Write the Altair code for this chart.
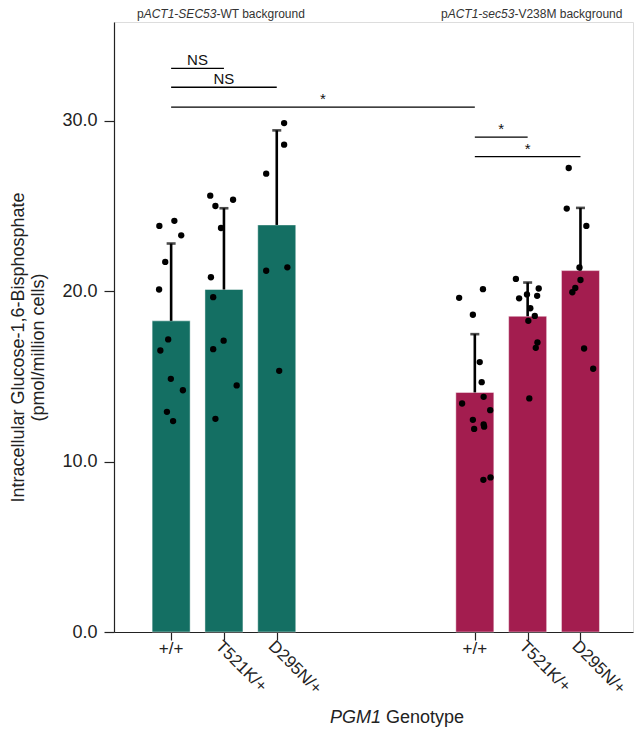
import altair as alt
import pandas as pd

# ---- data ----
genotypes = ["+/+", "T521K/+", "D295N/+", "+/+", "T521K/+", "D295N/+"]
backgrounds = ["WT", "WT", "WT", "V238M", "V238M", "V238M"]
positions = [0, 1, 2, 5.75, 6.75, 7.75]
means = [18.26, 20.10, 23.89, 14.06, 18.53, 21.21]
sd_tops = [22.80, 24.87, 29.44, 17.48, 20.51, 24.89]

pts_wt_wt = [23.83, 24.13, 23.28, 21.72, 20.10, 17.17, 16.52, 14.86, 14.19, 12.92, 12.38]
jit_wt_wt = [-12, 3.3, 10.3, -6, -12.3, -3, -11, -0.3, 12, -4.3, 2]
pts_wt_t521k = [25.61, 25.0, 25.37, 23.71, 20.82, 19.65, 17.1, 16.6, 14.47, 12.51]
jit_wt_t521k = [-14, -8.7, 9.3, -3, -13.3, -11, -0.3, -11, 13, -8.7]
pts_wt_d295n = [29.87, 28.6, 26.9, 21.2, 21.4, 15.33]
jit_wt_d295n = [7.5, 7.5, -10.8, -10.8, 10.8, 2.5]
pts_mut_wt = [19.61, 20.12, 18.62, 15.84, 14.66, 13.8, 13.41, 13.02, 12.45, 12.18, 12.05, 11.92, 8.93, 9.07]
jit_mut_wt = [-16, 8.3, -2, 5, 7, 9, -13, 15.7, -2, 9, 9.5, -0.7, 8.7, 16]
pts_mut_t521k = [20.72, 20.16, 19.58, 19.81, 19.73, 19.0, 18.55, 18.26, 16.99, 16.68, 13.71]
jit_mut_t521k = [-12, 11.3, -8.7, -0.7, 9.7, 2.7, 7.3, 0.7, 10, 8.3, 1.7]
pts_mut_d295n = [27.23, 24.85, 23.83, 21.39, 20.66, 20.19, 19.94, 16.64, 15.45]
jit_mut_d295n = [-12, -14, 6, -1, 0, -5.3, -8.3, 3.7, 13]

sig_x1 = [0, 0, 0, 5.75, 5.75]
sig_x2 = [1, 2, 5.75, 6.75, 7.75]
sig_y = [33.08, 31.97, 30.8, 29.04, 27.9]
sig_labels = ["NS", "NS", "*", "*", "*"]

y_ticks = [0, 10, 20, 30]

TEAL = "#146f63"
MAGENTA = "#a31d4f"
STEP_PX = 53.9  # pixels per x unit, used to convert jitter offsets

bars = pd.DataFrame({
    "genotype": genotypes,
    "background": backgrounds,
    "pos": positions,
    "mean": means,
    "sdtop": sd_tops,
    "angle": [0 if g == "+/+" else 45 for g in genotypes],
})

pt_groups = [pts_wt_wt, pts_wt_t521k, pts_wt_d295n, pts_mut_wt, pts_mut_t521k, pts_mut_d295n]
jit_groups = [jit_wt_wt, jit_wt_t521k, jit_wt_d295n, jit_mut_wt, jit_mut_t521k, jit_mut_d295n]
rows = []
for p, vals, jits in zip(positions, pt_groups, jit_groups):
    for v, j in zip(vals, jits):
        rows.append({"x": p + j / STEP_PX, "value": v})
points = pd.DataFrame(rows)

sig = pd.DataFrame({"x1": sig_x1, "x2": sig_x2, "y": sig_y, "label": sig_labels})
sig["mid"] = (sig["x1"] + sig["x2"]) / 2

FONT = "Liberation Sans"
xscale = alt.Scale(domain=[-0.987, 8.65], nice=False, zero=False)
yscale = alt.Scale(domain=[0, 35.8], nice=False)

x_axis = alt.Axis(values=positions, labels=False, title=None, grid=False,
                  tickSize=8, tickColor="#222", domainColor="#222", tickWidth=1.2, domainWidth=1.2)
y_axis = alt.Axis(values=y_ticks, format=".1f", grid=False, tickSize=10, tickColor="#222",
                  domainColor="#222", labelFontSize=18, labelFont=FONT, labelColor="#222",
                  labelPadding=7, title=["Intracellular Glucose-1,6-Bisphosphate", "(pmol/million cells)"],
                  titleFont=FONT, titleFontSize=18, titleFontWeight="normal", titleColor="#222",
                  titlePadding=14, titleY=325, tickWidth=1.2, domainWidth=1.2)

base = alt.Chart(bars)

bar_layer = base.mark_bar(size=38, orient="vertical", stroke="white", strokeOpacity=0.45, strokeWidth=1).encode(
    x=alt.X("pos:Q", scale=xscale, axis=x_axis),
    y=alt.Y("mean:Q", scale=yscale, axis=y_axis),
    color=alt.Color("background:N", scale=alt.Scale(domain=["WT", "V238M"], range=[TEAL, MAGENTA]), legend=None),
)

err_layer = base.mark_rule(color="black", strokeWidth=2.6).encode(
    x="pos:Q", y="mean:Q", y2="sdtop:Q"
)
cap_layer = base.mark_tick(color="black", thickness=2.6, size=9, orient="horizontal").encode(
    x="pos:Q", y="sdtop:Q"
)

pt_layer = alt.Chart(points).mark_circle(size=40, color="black", opacity=1).encode(
    x="x:Q", y="value:Q"
)

sig_rule = alt.Chart(sig).mark_rule(color="black", strokeWidth=1.3).encode(
    x="x1:Q", x2="x2:Q", y="y:Q"
)
sig_text = alt.Chart(sig).mark_text(font=FONT, fontSize=15, baseline="alphabetic", dy=-3, color="#111").encode(
    x="mid:Q", y="y:Q", text="label:N"
)

# tick labels
tick_h = alt.Chart(bars).transform_filter("datum.angle == 0").mark_text(
    font=FONT, fontSize=17, align="center", baseline="top", color="#222"
).encode(x="pos:Q", y=alt.value(619), text="genotype:N")
tick_r = alt.Chart(bars).transform_filter("datum.angle != 0").mark_text(
    font=FONT, fontSize=17, align="left", baseline="top", angle=45, color="#222"
).encode(x="pos:Q", y=alt.value(616), text="genotype:N")

# x title with italic gene name
xt1 = alt.Chart(bars).transform_filter("datum.pos == 0").mark_text(
    font=FONT, fontSize=18, fontStyle="italic", align="right", baseline="alphabetic", color="#222"
).encode(x=alt.value(267), y=alt.value(701), text=alt.value("PGM1"))
xt2 = alt.Chart(bars).transform_filter("datum.pos == 0").mark_text(
    font=FONT, fontSize=18, align="left", baseline="alphabetic", color="#222"
).encode(x=alt.value(272), y=alt.value(701), text=alt.value("Genotype"))

# top background labels
def seg(text, xpx, italic=False):
    return alt.Chart(bars).transform_filter("datum.pos == 0").mark_text(
        font=FONT, fontSize=12, fontStyle="italic" if italic else "normal",
        align="left", baseline="alphabetic", color="#333"
    ).encode(x=alt.value(xpx), y=alt.value(-4), text=alt.value(text))

top_labels = [
    seg("p", 23), seg("ACT1-SEC53", 29.7, True), seg("-WT background", 102.4),
    seg("p", 327), seg("ACT1-sec53", 333.7, True), seg("-V238M background", 400.4),
]

chart = alt.layer(
    bar_layer, err_layer, cap_layer, pt_layer, sig_rule, sig_text, tick_h, tick_r, xt1, xt2, *top_labels
).properties(
    width=519, height=610,
    autosize=alt.AutoSizeParams(type="none"),
    padding={"left": 106, "top": 14, "right": 1, "bottom": 98},
).configure_view(stroke="#222", strokeWidth=1.2).configure(background="white")

chart.save("out.html", embed_options={"renderer": "svg", "actions": False})
